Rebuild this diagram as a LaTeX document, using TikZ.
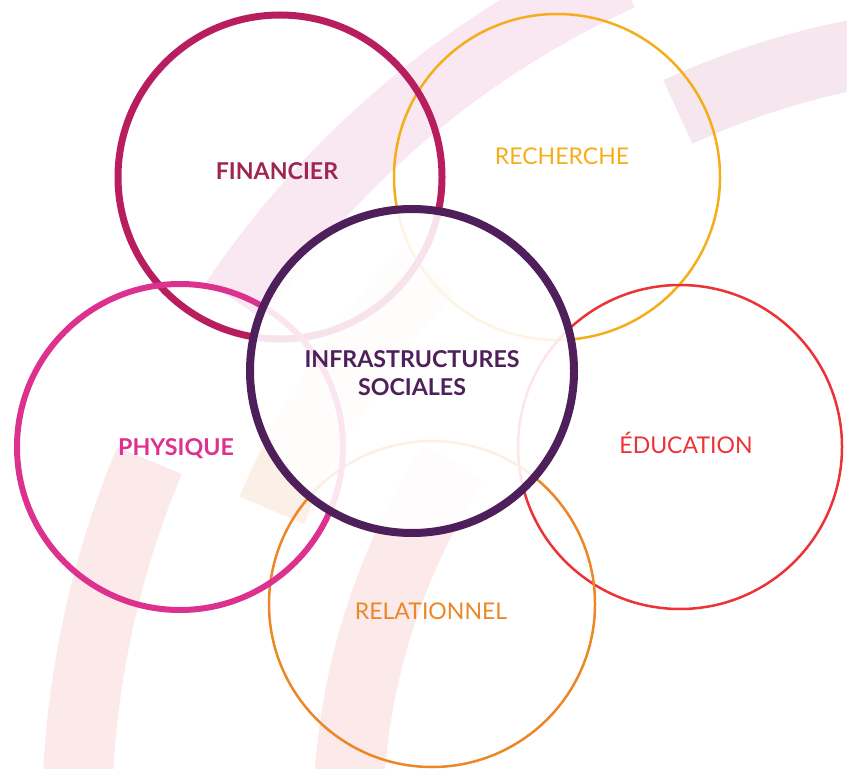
\documentclass[tikz,border=0pt]{standalone}
\usepackage{fontspec}
\setmainfont{Lato}
\usepackage{tikz}
\definecolor{financier}{RGB}{184, 30, 94}
\definecolor{financiertext}{RGB}{158, 38, 80}
\definecolor{recherche}{RGB}{245, 174, 27}
\definecolor{physique}{RGB}{220, 49, 143}
\definecolor{sociales}{RGB}{78, 31, 90}
\definecolor{education}{RGB}{237, 50, 54}
\definecolor{relationnel}{RGB}{237, 134, 38}
\definecolor{bandpink}{RGB}{249, 232, 241}
\definecolor{bandrose}{RGB}{246, 231, 238}
\definecolor{bandpeach}{RGB}{252, 239, 229}
\definecolor{bandsalmon}{RGB}{252, 234, 234}

\begin{document}
\begin{tikzpicture}[x=0.02cm, y=0.02cm,
        band/.style={line width=1.4cm},
        thin ring/.style={line width=0.05cm},
        etiquette/.style={font=\fontsize{13.1}{16}\selectfont},
        etiquette forte/.style={font=\fontsize{13.2}{16}\selectfont\bfseries}]
        % cadre
        \useasboundingbox (0,0) rectangle (847,768);
        \clip (0,0) rectangle (847,768);

        % arcs de fond, tous autour du meme centre
        \coordinate (O) at (1005,-52);
        \draw[band, bandpink] (O) ++(114.5:928) arc[start angle=114.5, end angle=146, radius=928];
        \draw[band, bandsalmon] (O) ++(157.2:928) arc[start angle=157.2, end angle=185, radius=928];
        \draw[band, bandrose] (O) ++(75:780) arc[start angle=75, end angle=114.8, radius=780];
        \draw[band, bandpeach] (O) ++(136.3:796) arc[start angle=136.3, end angle=157.1, radius=796];
        \draw[band, bandsalmon] (O) ++(147:657) arc[start angle=147, end angle=185, radius=657];

        % cercles
        \def\fincircle{(280,591) circle (162)}
        \def\rechcircle{(557,591) circle (163)}
        \def\physcircle{(180,321) circle (163)}
        \def\educircle{(680,321) circle (162)}
        \def\relcircle{(432,164) circle (163)}
        \def\centrecircle{(412,397) circle (162)}

        \draw[thin ring, recherche] \rechcircle;
        \draw[thin ring, education] \educircle;
        \draw[thin ring, relationnel] \relcircle;
        \draw[line width=0.14cm, financier] \fincircle;
        \draw[line width=0.12cm, physique] \physcircle;

        % le cercle central voile ce qui passe dessous
        \draw[line width=0.16cm, sociales, fill=white, fill opacity=0.88] \centrecircle;

        % etiquettes
        \node[etiquette forte, text=financiertext] (financier) at (277,597) {FINANCIER};
        \node[etiquette, text=recherche] (recherche) at (562,612) {RECHERCHE};
        \node[etiquette forte, text=physique] (physique) at (176,319) {PHYSIQUE};
        \node[etiquette, text=education] (education) at (686,325) {ÉDUCATION};
        \node[etiquette, text=relationnel] (relationnel) at (431,157) {RELATIONNEL};
        \node[etiquette forte, text=sociales, align=center] (infra) at (412,395) {INFRASTRUCTURES\\SOCIALES};
    \end{tikzpicture}
\end{document}
